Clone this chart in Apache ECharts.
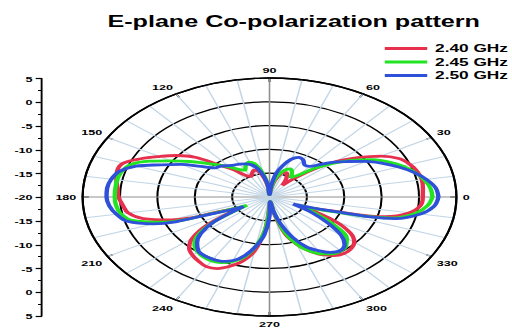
<!DOCTYPE html>
<html>
<head>
<meta charset="utf-8">
<script src="https://cdn.jsdelivr.net/npm/echarts@6/dist/echarts.min.js"></script>
<style>
  html, body { margin: 0; padding: 0; background: #fff; overflow: hidden; }
  #wrap { width: 512px; height: 328px; overflow: hidden; }
  /* the pattern is drawn on a narrow canvas and stretched sideways into an oval plot */
  #chart { width: 326px; height: 328px; transform: scaleX(1.5706); transform-origin: 0 0; }
</style>
</head>
<body>
<div id="wrap"><div id="chart"></div></div>
<script>
// Angles (deg) sampled every 5 degrees
const angles = [];
for (let a = 0; a < 360; a += 5) angles.push(a);

// Normalised gain (dB) per frequency
const gain240 = [
  0.5, 0.6, 0.7, 0.5, 0.0, -0.9, -2.8, -5.6, -8.5, -12.0, -15.0, -17.0,
  -15.5, -14.5, -14.5, -15.5, -17.0, -18.8, -19.5, -18.0, -16.0, -14.5, -14.0, -14.5,
  -15.0, -14.5, -12.5, -10.5, -7.0, -4.8, -3.0, -1.0, 0.8, 1.1, 0.8, 0.4,
  0.2, -0.3, -0.8, -2.5, -6.0, -13.0, -15.5, -10.0, -6.5, -4.8, -4.0, -3.5,
  -3.1, -3.4, -4.5, -6.0, -8.5, -13.0, -18.0, -19.0, -16.5, -12.0, -9.5, -7.5,
  -6.0, -5.0, -4.5, -4.6, -5.2, -6.8, -10.0, -15.0, -12.0, -4.0, -1.0, 0.3
];
const gain245 = [
  1.8, 1.6, 1.0, 0.1, -1.0, -2.5, -4.3, -6.6, -9.0, -11.5, -14.0, -15.0,
  -14.0, -13.5, -14.0, -15.0, -16.5, -18.5, -19.5, -17.5, -15.0, -13.0, -12.2, -12.5,
  -13.5, -13.0, -11.8, -10.5, -9.0, -7.0, -4.8, -2.2, -0.2, 0.5, 0.7, 0.7,
  0.7, 0.6, 0.2, -1.0, -4.5, -12.5, -16.5, -11.0, -7.5, -5.8, -5.0, -4.6,
  -4.5, -4.8, -5.6, -7.0, -9.5, -13.0, -17.5, -19.0, -17.0, -12.5, -9.5, -7.5,
  -6.2, -5.4, -5.2, -5.5, -6.5, -9.0, -12.5, -16.0, -11.0, -3.0, -0.2, 1.2
];
const gain250 = [
  2.6, 2.3, 1.3, 0.0, -1.6, -3.3, -5.0, -7.0, -8.6, -10.3, -11.6, -11.8,
  -11.0, -10.8, -11.6, -13.2, -15.0, -17.8, -19.5, -17.5, -15.5, -13.8, -12.8, -12.3,
  -12.0, -11.8, -11.4, -10.8, -10.5, -8.8, -6.3, -4.0, -1.0, 0.8, 1.5, 1.8,
  1.8, 1.5, 0.8, -0.3, -3.5, -12.0, -16.0, -11.0, -8.0, -6.3, -5.2, -4.9,
  -4.9, -5.1, -5.8, -7.3, -9.5, -12.0, -16.0, -19.0, -17.0, -14.0, -11.0, -8.5,
  -7.0, -5.8, -5.3, -5.8, -7.5, -10.5, -13.5, -16.5, -12.0, -2.5, 0.5, 2.1
];

const seriesNames = ['2.40 GHz', '2.45 GHz', '2.50 GHz'];
const seriesGains = [gain240, gain245, gain250];
const seriesColors = ['#e6304e', '#22e422', '#2f50d8'];

// Radial scale (dB) and the mirrored left-hand scale labels
const radiusMin = -20, radiusMax = 5, radiusStep = 5;
const angleLabelStep = 30;
const titleText = 'E-plane Co-polarization pattern';

function toPolar(gains) {
  const pts = angles.map((a, i) => [gains[i], a]);
  pts.push([gains[0], 360]);
  return pts;
}

const chart = echarts.init(document.getElementById('chart'), null, { renderer: 'svg' });

const labelFont = { fontFamily: 'Liberation Sans, Arial, sans-serif', fontWeight: 'bold', color: '#000' };

chart.setOption({
  animation: false,
  backgroundColor: '#fff',
  title: {
    text: titleText,
    left: 182,
    top: 8,
    textAlign: 'center',
    textStyle: Object.assign({ fontSize: 16 }, labelFont)
  },
  legend: {
    orient: 'vertical',
    left: 240,
    top: 37,
    itemWidth: 27,
    itemHeight: 3,
    itemGap: 0.5,
    icon: 'rect',
    textStyle: Object.assign({ fontSize: 11, lineHeight: 13 }, labelFont),
    data: seriesNames
  },
  polar: { center: [171.6, 197], radius: 119 },
  angleAxis: {
    type: 'value',
    min: 0,
    max: 360,
    interval: angleLabelStep,
    startAngle: 0,
    clockwise: false,
    axisLine: { lineStyle: { color: '#000', width: 1.4 } },
    axisTick: { show: true, inside: true, length: 4, lineStyle: { color: '#000', width: 1.2 } },
    axisLabel: Object.assign({ fontSize: 8, margin: 4, formatter: v => (v === 360 ? '' : String(v)) }, labelFont),
    splitLine: { show: true, lineStyle: { color: ['#8f8f8f', '#c3d6e6', '#c3d6e6'], width: 1 } },
    minorTick: { show: false, splitNumber: 3 },
    minorSplitLine: { show: true, lineStyle: { color: '#c3d6e6', width: 1 } }
  },
  radiusAxis: {
    type: 'value',
    min: radiusMin,
    max: radiusMax,
    interval: radiusStep,
    axisLine: { show: false },
    axisTick: { show: false },
    axisLabel: { show: false },
    splitLine: { show: true, lineStyle: { color: '#000', width: 1.3 } }
  },
  grid: { left: 26.7, top: 78.5, width: 1, height: 237.5 },
  xAxis: { type: 'value', show: false, min: 0, max: 1 },
  yAxis: {
    type: 'value',
    min: -(radiusMax - radiusMin),
    max: radiusMax - radiusMin,
    interval: radiusStep,
    axisLine: { show: true, lineStyle: { color: '#000', width: 1.2 } },
    axisTick: { show: true, length: 4, lineStyle: { color: '#000', width: 1.2 } },
    minorTick: { show: true, splitNumber: 2, length: 2.5, lineStyle: { color: '#000', width: 1 } },
    splitLine: { show: false },
    axisLabel: Object.assign({ fontSize: 8, margin: 6, formatter: v => String(Math.abs(v) + radiusMin) }, labelFont)
  },
  series: seriesNames.map((name, i) => ({
    name,
    type: 'line',
    coordinateSystem: 'polar',
    data: toPolar(seriesGains[i]),
    showSymbol: false,
    smooth: 0.35,
    color: seriesColors[i],
    lineStyle: { width: 2.8, color: seriesColors[i] },
    z: 3 + i
  }))
});
</script>
</body>
</html>
